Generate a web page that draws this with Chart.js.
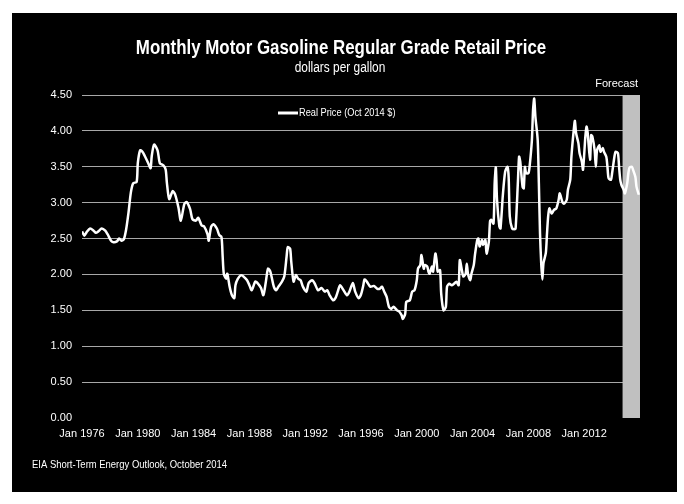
<!DOCTYPE html>
<html>
<head>
<meta charset="utf-8">
<script src="https://cdn.jsdelivr.net/npm/chart.js@4.4.1/dist/chart.umd.min.js"></script>
<style>
  html, body { margin: 0; padding: 0; background: #fff; }
  #wrap { position: relative; width: 684px; height: 504px; }
</style>
</head>
<body>
<div id="wrap"><canvas id="chart" width="684" height="504"></canvas></div>
<script>
// Real retail price, dollars per gallon (Oct 2014 $)
const months = [
  '1976-01','1976-03','1976-05','1976-08','1976-11','1977-01','1977-03','1977-06','1977-09','1977-11',
  '1978-02','1978-04','1978-07','1978-09','1978-11','1979-01','1979-03','1979-05','1979-07','1979-09',
  '1979-12','1980-01','1980-03','1980-05','1980-07','1980-10','1980-12','1981-01','1981-03','1981-06',
  '1981-08','1981-11','1982-01','1982-02','1982-04','1982-07','1982-09','1982-12','1983-02','1983-05',
  '1983-07','1983-10','1983-12','1984-03','1984-05','1984-08','1984-10','1985-01','1985-02','1985-04',
  '1985-06','1985-09','1985-11','1986-01','1986-02','1986-03','1986-05','1986-06','1986-08','1986-10',
  '1986-12','1987-01','1987-03','1987-06','1987-08','1987-11','1988-01','1988-03','1988-06','1988-08',
  '1988-11','1989-01','1989-03','1989-05','1989-07','1989-10','1989-12','1990-02','1990-05','1990-07',
  '1990-09','1990-10','1990-12','1991-01','1991-03','1991-05','1991-07','1991-09','1991-11','1992-02',
  '1992-04','1992-07','1992-09','1992-12','1993-03','1993-06','1993-08','1993-10','1994-01','1994-03',
  '1994-05','1994-07','1994-10','1995-01','1995-03','1995-06','1995-08','1995-11','1996-01','1996-03',
  '1996-04','1996-06','1996-09','1996-12','1997-03','1997-05','1997-07','1997-09','1997-11','1998-01',
  '1998-03','1998-05','1998-08','1998-10','1998-12','1999-01','1999-03','1999-04','1999-07','1999-09',
  '1999-11','2000-01','2000-02','2000-04','2000-05','2000-07','2000-08','2000-10','2000-11','2000-12',
  '2001-02','2001-03','2001-05','2001-06','2001-07','2001-09','2001-10','2001-12','2002-02','2002-03',
  '2002-05','2002-07','2002-09','2002-11','2003-01','2003-02','2003-04','2003-05','2003-07','2003-08',
  '2003-09','2003-11','2003-12','2004-02','2004-03','2004-05','2004-06','2004-07','2004-09','2004-10',
  '2004-12','2005-01','2005-03','2005-04','2005-05','2005-07','2005-08','2005-09','2005-10','2005-12',
  '2006-01','2006-03','2006-05','2006-07','2006-08','2006-09','2006-11','2007-01','2007-02','2007-04',
  '2007-05','2007-06','2007-08','2007-09','2007-10','2007-11','2008-01','2008-02','2008-04','2008-05',
  '2008-06','2008-07','2008-09','2008-10','2008-11','2008-12','2009-01','2009-02','2009-04','2009-05',
  '2009-06','2009-07','2009-09','2009-11','2010-01','2010-03','2010-04','2010-06','2010-07','2010-08',
  '2010-10','2010-11','2011-01','2011-02','2011-04','2011-05','2011-06','2011-08','2011-09','2011-11',
  '2011-12','2012-02','2012-03','2012-04','2012-06','2012-07','2012-08','2012-10','2012-11','2012-12',
  '2013-02','2013-03','2013-05','2013-06','2013-08','2013-09','2013-10','2013-12','2014-01','2014-03',
  '2014-04','2014-06','2014-07','2014-08','2014-09','2014-11','2014-12','2015-02','2015-03','2015-04',
  '2015-06','2015-07','2015-09','2015-10','2015-12'
];
const prices = [
  2.60, 2.54, 2.59, 2.64, 2.61, 2.58, 2.60, 2.64, 2.61, 2.56,
  2.47, 2.45, 2.46, 2.50, 2.47, 2.49, 2.63, 2.86, 3.14, 3.27,
  3.29, 3.55, 3.73, 3.71, 3.65, 3.55, 3.48, 3.65, 3.81, 3.73,
  3.55, 3.52, 3.46, 3.28, 3.05, 3.16, 3.12, 2.93, 2.75, 2.98,
  3.01, 2.91, 2.77, 2.75, 2.79, 2.68, 2.67, 2.56, 2.47, 2.66,
  2.70, 2.64, 2.55, 2.52, 2.25, 2.01, 1.94, 2.01, 1.83, 1.71,
  1.67, 1.85, 1.94, 1.99, 1.97, 1.92, 1.85, 1.78, 1.90, 1.88,
  1.81, 1.71, 1.88, 2.08, 2.04, 1.83, 1.78, 1.83, 1.90, 1.97,
  2.25, 2.38, 2.36, 2.18, 1.90, 1.99, 1.94, 1.92, 1.83, 1.76,
  1.88, 1.92, 1.88, 1.78, 1.81, 1.76, 1.78, 1.71, 1.64, 1.67,
  1.76, 1.85, 1.78, 1.71, 1.76, 1.88, 1.76, 1.67, 1.72, 1.85,
  1.93, 1.90, 1.83, 1.84, 1.80, 1.80, 1.83, 1.76, 1.69, 1.55,
  1.52, 1.55, 1.50, 1.48, 1.43, 1.38, 1.45, 1.62, 1.64, 1.76,
  1.78, 1.92, 2.08, 2.13, 2.27, 2.08, 2.13, 2.11, 2.04, 2.01,
  2.11, 2.04, 2.29, 2.20, 2.04, 2.06, 1.73, 1.50, 1.55, 1.83,
  1.87, 1.85, 1.87, 1.90, 1.85, 2.20, 2.04, 1.97, 2.01, 2.15,
  2.01, 1.92, 2.01, 2.13, 2.27, 2.48, 2.50, 2.39, 2.48, 2.41,
  2.48, 2.29, 2.46, 2.74, 2.76, 2.71, 3.28, 3.49, 3.04, 2.67,
  2.64, 3.10, 3.43, 3.50, 3.36, 2.81, 2.64, 2.63, 2.64, 3.30,
  3.64, 3.57, 3.22, 3.20, 3.50, 3.41, 3.41, 3.50, 3.87, 4.29,
  4.45, 4.20, 3.87, 3.27, 2.57, 2.16, 1.93, 2.16, 2.30, 2.57,
  2.81, 2.92, 2.85, 2.90, 2.92, 3.04, 3.13, 3.02, 2.99, 2.99,
  3.04, 3.18, 3.32, 3.64, 4.01, 4.14, 3.97, 3.83, 3.69, 3.57,
  3.46, 3.92, 4.06, 3.97, 3.60, 3.94, 3.92, 3.73, 3.50, 3.73,
  3.80, 3.71, 3.76, 3.71, 3.64, 3.50, 3.34, 3.32, 3.41, 3.64,
  3.71, 3.69, 3.50, 3.32, 3.25, 3.18, 3.13, 3.27, 3.41, 3.49,
  3.50, 3.46, 3.36, 3.22, 3.11
];
const xTickYears = [1976, 1980, 1984, 1988, 1992, 1996, 2000, 2004, 2008, 2012];
const yTicks = [0, 0.5, 1, 1.5, 2, 2.5, 3, 3.5, 4, 4.5];
const axisStart = '1976-01';
const axisEnd = '2016-01';
const forecastStart = '2014-10';

const FONT = "'Liberation Sans', Arial, sans-serif";

function monthIndex(s) {
  const [y, m] = s.split('-').map(Number);
  return (y - 1976) * 12 + (m - 1);
}

const points = months.map((m, i) => ({ x: monthIndex(m), y: prices[i] }));

// no Arial Narrow here, so squeeze the text horizontally instead
function narrowText(ctx, text, x, y, squeeze) {
  ctx.save();
  ctx.translate(x, y);
  ctx.scale(squeeze, 1);
  ctx.fillText(text, 0, 0);
  ctx.restore();
}

// black panel, forecast band, headings, legend and source note
const decorations = {
  id: 'decorations',
  beforeDraw(chart) {
    const ctx = chart.ctx;
    ctx.save();
    ctx.fillStyle = '#000';
    ctx.fillRect(12, 13, 665, 479);
    ctx.restore();
  },
  beforeDatasetsDraw(chart) {
    const { ctx, scales: { x, y } } = chart;
    const left = x.getPixelForValue(monthIndex(forecastStart));
    const right = x.getPixelForValue(monthIndex(axisEnd));
    const top = y.getPixelForValue(4.5);
    const bottom = y.getPixelForValue(0);
    ctx.save();
    ctx.fillStyle = '#c0c0c0';
    ctx.fillRect(left, top, right - left, bottom - top);

    ctx.fillStyle = '#fff';
    ctx.textBaseline = 'middle';
    ctx.textAlign = 'right';
    ctx.font = '11px ' + FONT;
    ctx.fillText('Forecast', right - 2, top - 11);

    ctx.textAlign = 'center';
    ctx.font = 'bold 20px ' + FONT;
    narrowText(ctx, 'Monthly Motor Gasoline Regular Grade Retail Price', 341, 48, 0.845);
    ctx.font = '14px ' + FONT;
    narrowText(ctx, 'dollars per gallon', 340, 68, 0.85);

    // legend
    ctx.strokeStyle = '#fff';
    ctx.lineWidth = 3;
    ctx.beginPath();
    ctx.moveTo(278, 113);
    ctx.lineTo(298, 113);
    ctx.stroke();
    ctx.textAlign = 'left';
    ctx.font = '10.5px ' + FONT;
    narrowText(ctx, 'Real Price (Oct 2014 $)', 299, 113, 0.88);

    ctx.font = '11px ' + FONT;
    narrowText(ctx, 'EIA Short-Term Energy Outlook, October 2014', 32, 465, 0.86);
    ctx.restore();
  }
};

new Chart(document.getElementById('chart').getContext('2d'), {
  type: 'line',
  data: {
    datasets: [{
      label: 'Real Price (Oct 2014 $)',
      data: points,
      borderColor: '#ffffff',
      borderWidth: 2.5,
      pointRadius: 0,
      tension: 0.25,
      fill: false
    }]
  },
  options: {
    responsive: false,
    animation: false,
    devicePixelRatio: 1,
    layout: { padding: { left: 12, right: 44, top: 95, bottom: 56 } },
    plugins: {
      legend: { display: false },
      title: { display: false },
      tooltip: { enabled: false }
    },
    scales: {
      x: {
        type: 'linear',
        min: monthIndex(axisStart),
        max: monthIndex(axisEnd),
        afterBuildTicks: (scale) => {
          scale.ticks = xTickYears.map(yr => ({ value: monthIndex(yr + '-01') }));
        },
        afterFit: (scale) => { scale.height = 30; },
        ticks: {
          color: '#fff',
          autoSkip: false,
          maxRotation: 0,
          padding: 9,
          font: { family: FONT, size: 11 },
          callback: (value) => 'Jan ' + (1976 + value / 12)
        },
        grid: { display: false, drawTicks: false },
        border: { display: false }
      },
      y: {
        min: 0,
        max: 4.5,
        afterBuildTicks: (scale) => {
          scale.ticks = yTicks.map(v => ({ value: v }));
        },
        afterFit: (scale) => { scale.width = 70; },
        ticks: {
          color: '#fff',
          padding: 10,
          font: { family: FONT, size: 11 },
          callback: (value) => value.toFixed(2)
        },
        grid: {
          drawTicks: false,
          lineWidth: 1,
          color: (ctx) => ctx.tick && ctx.tick.value === 0 ? 'rgba(0,0,0,0)' : '#a8a8a8'
        },
        border: { display: false }
      }
    }
  },
  plugins: [decorations]
});
</script>
</body>
</html>
